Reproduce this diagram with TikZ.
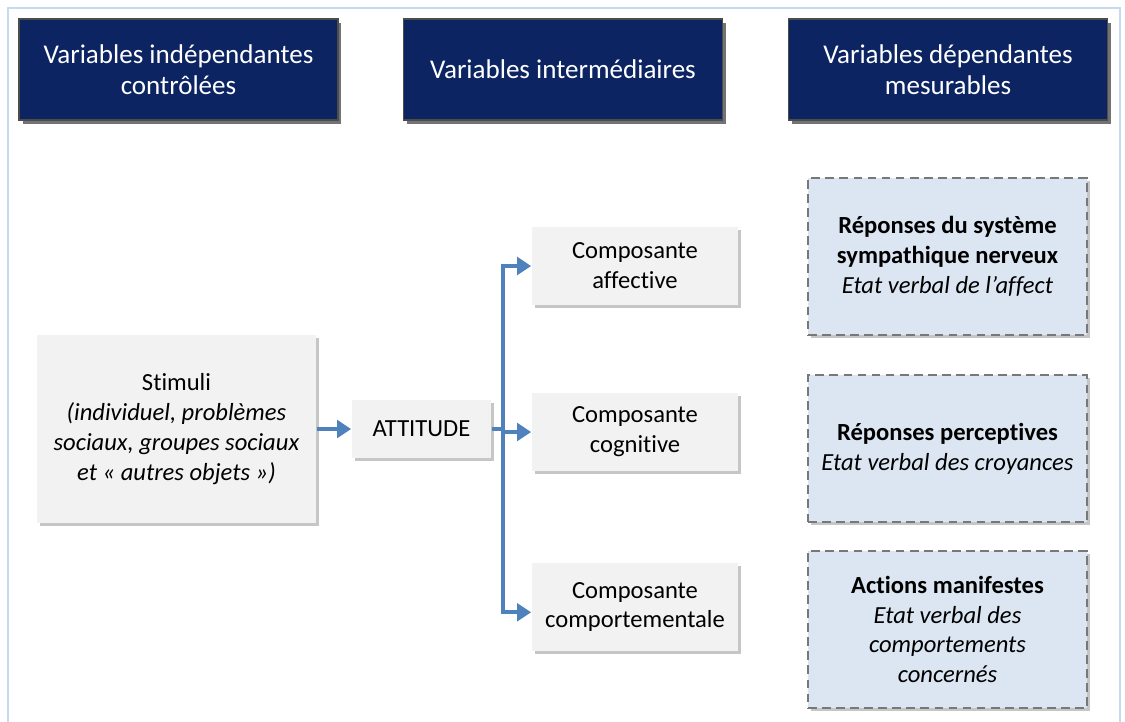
\documentclass[tikz,border=0pt]{standalone}
\usepackage{fontspec}
\setmainfont[RawFeature=-liga]{Carlito}
\usetikzlibrary{arrows.meta,shadows}
\definecolor{navyhead}{RGB}{13,36,99}
\definecolor{boxgray}{RGB}{242,242,242}
\definecolor{boxblue}{RGB}{220,230,242}
\definecolor{arrowblue}{RGB}{79,129,189}
\definecolor{framblue}{RGB}{198,217,241}
\definecolor{dashgray}{RGB}{120,120,120}

\begin{document}
\begin{tikzpicture}[
                x=0.02cm,y=-0.02cm,
                headbox/.style={draw=black!70,fill=navyhead,text=white,align=center,
                    minimum width=6.38cm,minimum height=2.02cm,inner sep=2pt,
                    font=\fontsize{15.4}{17.5}\selectfont,
                    drop shadow={shadow xshift=2pt,shadow yshift=-2pt,opacity=.55,fill=black}},
                graybox/.style={fill=boxgray,text=black,align=center,inner sep=2pt,
                    font=\fontsize{14}{17}\selectfont,
                    drop shadow={shadow xshift=1.5pt,shadow yshift=-1.5pt,opacity=.45,fill=gray}},
                measbox/.style={draw=dashgray,line width=1.2pt,dash pattern=on 5pt off 3pt,
                    fill=boxblue,text=black,align=center,inner sep=2pt,
                    minimum width=5.58cm,font=\fontsize{14}{17}\selectfont,
                    drop shadow={shadow xshift=1.5pt,shadow yshift=-1.5pt,opacity=.45,fill=gray}},
                flow/.style={arrowblue,line width=2.2pt,-{Triangle[length=8pt,width=10pt]}},
                line width=1pt] %

\useasboundingbox (0,0) rectangle (1125,721);

% frame
\draw[framblue,line width=1.5pt] (8,730) -- (8,8) -- (1120,8) -- (1120,730);

                    % headers
                    \node[headbox] (HIND) at (178.5,69.5) {Variables indépendantes\\contrôlées};
                    \node[headbox] (HINT) at (563,69.5) {Variables intermédiaires};
                    \node[headbox] (HDEP) at (948,69.5) {Variables dépendantes\\mesurables};

                    % 1
                    \node[graybox,minimum width=5.58cm,minimum height=3.76cm] (STIM) at (176.5,429)
                        {Stimuli\\\textit{(individuel, problèmes}\\\textit{sociaux, groupes sociaux}\\\textit{et « autres objets »)}};

                    % 2
                    \node[graybox,minimum width=2.78cm,minimum height=1.16cm] (ATT) at (421.5,429) {ATTITUDE};
                    \coordinate (SPLIT) at (503,429);

                    % 3
                    \node[graybox,minimum width=4.12cm,minimum height=1.56cm] (AFF) at (635,266) {Composante\\affective};
                    \node[graybox,minimum width=4.12cm,minimum height=1.56cm] (COG) at (635,432) {Composante\\cognitive};
                    \node[graybox,minimum width=4.12cm,minimum height=1.76cm] (COMP) at (635,607) {Composante\\comportementale};

                    % 4
                    \node[measbox,minimum height=3.14cm] (SNS) at (947.5,256.5)
                        {\textbf{Réponses du système}\\\textbf{sympathique nerveux}\\\textit{Etat verbal de l’affect}};
                    \node[measbox,minimum height=2.94cm] (PERC) at (947.5,448.5)
                        {\textbf{Réponses perceptives}\\\textit{Etat verbal des croyances}};
                    \node[measbox,minimum height=3.14cm] (ACT) at (947.5,629.5)
                        {\textbf{Actions manifestes}\\\textit{Etat verbal des}\\\textit{comportements}\\\textit{concernés}};

                    % arrows
                    \draw[flow] (STIM.east) -- (ATT.west);
                    \draw[flow] (ATT.east) -- (SPLIT) |- (AFF.west);
                    \draw[flow] (ATT.east) -- (SPLIT) |- (COG.west);
                    \draw[flow] (ATT.east) -- (SPLIT) |- ([yshift=-3pt]COMP.west);

%%%%%%%%%%%%%%%%%%%%%%%%%%%%%%%%%%%%%%%%%%%%%%%%%%%%%%%%%%%%%%%%%%%%%%%%%%%%%%%%%%%%

\end{tikzpicture}
\end{document}
